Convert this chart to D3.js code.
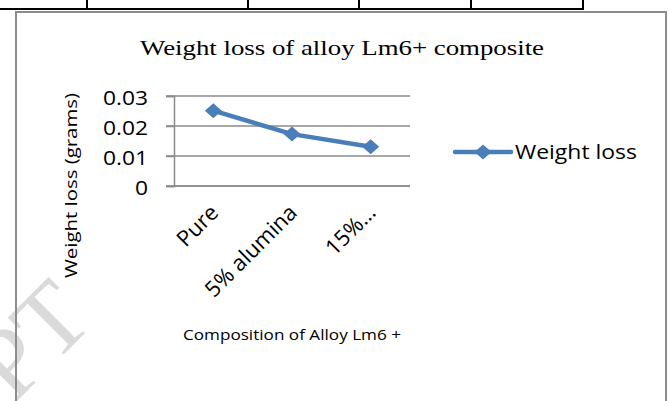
<!DOCTYPE html>
<html>
<head>
<meta charset="utf-8">
<script src="https://cdn.jsdelivr.net/npm/d3@7"></script>
<style>
  html, body { margin: 0; padding: 0; background: #fff; }
  svg { display: block; }
</style>
</head>
<body>
<div id="chart"></div>
<script>
// Weight loss of Lm6 alloy and its alumina composites
const categories = ["Pure", "5% alumina", "15% alumina"];
const xTickLabels = ["Pure", "5% alumina", "15%…"];
const weightLoss = [0.0251, 0.0173, 0.0131];
const yTicks = [0, 0.01, 0.02, 0.03];
const yTickLabels = ["0", "0.01", "0.02", "0.03"];
const seriesName = "Weight loss";
const chartTitle = "Weight loss of alloy Lm6+ composite";
const xTitle = "Composition of Alloy Lm6 +";
const yTitle = "Weight loss (grams)";
const tableCols = [87, 248, 359, 471, 583];

const W = 669, H = 401;
const blue = "#4a7ebb";
const grid = "#8a8a8a";
const sans = "'Open Sans', 'DejaVu Sans', sans-serif";
const serif = "'Liberation Serif', 'Times New Roman', serif";

const svg = d3.select("#chart").append("svg")
  .attr("width", W).attr("height", H);

// Stretch horizontal text to a given width
function fitWidth(sel, target) {
  sel.attr("textLength", target).attr("lengthAdjust", "spacingAndGlyphs");
}

// Table rule above the chart
svg.append("line").attr("x1", 0).attr("x2", 584).attr("y1", 9).attr("y2", 9)
  .attr("stroke", "#000").attr("stroke-width", 2);
svg.selectAll(".tcol").data(tableCols).enter().append("line")
  .attr("x1", d => d).attr("x2", d => d).attr("y1", 0).attr("y2", 9)
  .attr("stroke", "#000").attr("stroke-width", 2);

// Scales
const x = d3.scalePoint().domain(categories).range([174, 410]).padding(0.5);
const y = d3.scaleLinear().domain([0, 0.03]).range([186, 96]);

// Gridlines
svg.append("g").selectAll("line").data(yTicks).enter().append("line")
  .attr("x1", 166).attr("x2", 410)
  .attr("y1", d => y(d)).attr("y2", d => y(d))
  .attr("stroke", grid).attr("stroke-width", 1.5);

// Value axis
const yAxis = svg.append("g").attr("transform", "translate(174,0)")
  .call(d3.axisLeft(y).tickValues(yTicks).tickSize(8).tickPadding(18)
    .tickFormat((d, i) => yTickLabels[i]));
yAxis.select(".domain").attr("stroke", grid).attr("stroke-width", 1.5);
yAxis.selectAll(".tick line").attr("stroke", grid).attr("stroke-width", 1.5);
yAxis.selectAll(".tick text")
  .attr("font-family", sans).attr("font-size", 19.5).attr("fill", "#000")
  .attr("dy", "0.42em")
  .each(function () {
    const w = this.getComputedTextLength();
    fitWidth(d3.select(this), w * 1.17);
  });

// Category axis with slanted labels
const xAxis = svg.append("g").attr("transform", "translate(0,186)")
  .call(d3.axisBottom(x).tickSize(0).tickFormat((d, i) => xTickLabels[i]));
xAxis.select(".domain").attr("stroke", grid).attr("stroke-width", 1.5)
  .attr("d", "M174,0H410");
xAxis.selectAll(".tick text")
  .attr("font-family", sans).attr("font-size", 22).attr("fill", "#000")
  .attr("text-anchor", "end")
  .attr("x", 0).attr("y", 0).attr("dy", 0)
  .attr("transform", "translate(6,28) rotate(-45)");

// Series line and markers
const diamond = {
  draw(ctx, size) {
    const w = 8.5, h = 7.5;
    ctx.moveTo(0, -h); ctx.lineTo(w, 0); ctx.lineTo(0, h); ctx.lineTo(-w, 0); ctx.closePath();
  }
};
svg.append("path")
  .datum(weightLoss)
  .attr("fill", "none").attr("stroke", blue).attr("stroke-width", 4.5)
  .attr("stroke-linejoin", "round")
  .attr("d", d3.line().x((d, i) => x(categories[i])).y(d => y(d)));
svg.append("g").selectAll("path").data(weightLoss).enter().append("path")
  .attr("d", d3.symbol().type(diamond))
  .attr("transform", (d, i) => `translate(${x(categories[i])},${y(d)})`)
  .attr("fill", blue);

// Legend
const lg = svg.append("g");
lg.append("line").attr("x1", 455).attr("x2", 511).attr("y1", 152).attr("y2", 152)
  .attr("stroke", blue).attr("stroke-width", 4.5).attr("stroke-linecap", "round");
lg.append("path").attr("d", d3.symbol().type(diamond))
  .attr("transform", "translate(483,152)").attr("fill", blue);
lg.append("text").attr("x", 515).attr("y", 159)
  .attr("font-family", sans).attr("font-size", 20).attr("fill", "#000")
  .text(seriesName).call(fitWidth, 122);

// Titles
svg.append("text").attr("x", 140).attr("y", 55)
  .attr("font-family", serif).attr("font-size", 21.5).attr("fill", "#000")
  .text(chartTitle).call(fitWidth, 404);
svg.append("text").attr("x", 183).attr("y", 340)
  .attr("font-family", sans).attr("font-size", 15).attr("fill", "#000")
  .text(xTitle).call(fitWidth, 218);
svg.append("text")
  .attr("transform", "translate(77,278) rotate(-90)")
  .attr("font-family", sans).attr("font-size", 16.5).attr("fill", "#000")
  .text(yTitle).call(fitWidth, 185);

// Faint page watermark
svg.append("text")
  .attr("transform", "translate(96,322) rotate(-45)")
  .attr("text-anchor", "end")
  .attr("font-family", serif).attr("font-size", 100)
  .attr("fill", "#d4d4d4").attr("opacity", 0.85)
  .text("RIPT");

// Chart frame
svg.append("path")
  .attr("d", `M16,${H + 2}V12H666V${H + 2}`)
  .attr("fill", "none").attr("stroke", "#8c8c8c").attr("stroke-width", 2);
</script>
</body>
</html>
